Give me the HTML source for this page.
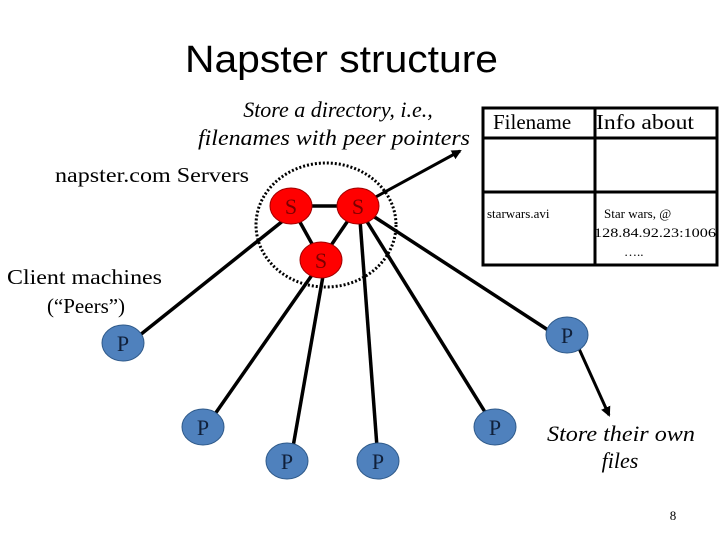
<!DOCTYPE html>
<html><head><meta charset="utf-8"><style>
html,body{margin:0;padding:0;background:#fff;}
svg{display:block;}
.serif{font-family:"Liberation Serif","Times New Roman",serif;}
.sans{font-family:"Liberation Sans",Arial,sans-serif;}
</style></head><body>
<svg width="720" height="540" viewBox="0 0 720 540" xmlns="http://www.w3.org/2000/svg">
<defs>
<marker id="ah" markerWidth="10" markerHeight="10" refX="8" refY="5" orient="auto" markerUnits="userSpaceOnUse">
<path d="M0,0 L10,5 L0,10 z" fill="#000"/>
</marker>
</defs>
<text class="sans" x="185" y="72" font-size="38" textLength="313" lengthAdjust="spacingAndGlyphs">Napster structure</text>
<g class="serif" font-style="italic" font-size="22">
<text x="338" y="117" text-anchor="middle">Store a directory, i.e.,</text>
<text x="470" y="145" text-anchor="end" textLength="272" lengthAdjust="spacingAndGlyphs">filenames with peer pointers</text>
<text x="547" y="441" textLength="148" lengthAdjust="spacingAndGlyphs">Store their own</text>
<text x="620" y="468" text-anchor="middle">files</text>
</g>
<g class="serif" font-size="21">
<text x="55" y="182" textLength="194" lengthAdjust="spacingAndGlyphs">napster.com Servers</text>
<text x="7" y="284" textLength="155" lengthAdjust="spacingAndGlyphs">Client machines</text>
<text x="86" y="313" text-anchor="middle">(“Peers”)</text>
</g>
<text class="serif" x="673" y="520" font-size="13" text-anchor="middle">8</text>
<g stroke="#000" stroke-width="3" fill="none">
<rect x="483" y="108" width="234" height="157"/>
<line x1="483" y1="138" x2="717" y2="138"/>
<line x1="483" y1="192" x2="717" y2="192"/>
<line x1="595" y1="108" x2="595" y2="265"/>
</g>
<g class="serif">
<text x="493" y="129" font-size="21">Filename</text>
<text x="596" y="129" font-size="21" textLength="98" lengthAdjust="spacingAndGlyphs">Info about</text>
<text x="487" y="218" font-size="13">starwars.avi</text>
<text x="604" y="218" font-size="13">Star wars, @</text>
<text x="594" y="237" font-size="13" textLength="122" lengthAdjust="spacingAndGlyphs">128.84.92.23:1006</text>
<text x="624" y="256" font-size="13">…..</text>
</g>
<ellipse cx="326" cy="225" rx="70" ry="62" fill="none" stroke="#000" stroke-width="3" stroke-dasharray="2,2"/>
<g stroke="#000" stroke-width="3.5" fill="none">
<line x1="291" y1="206" x2="358" y2="206"/>
<line x1="291" y1="206" x2="321" y2="260"/>
<line x1="358" y1="206" x2="321" y2="260"/>
<line x1="140" y1="335" x2="284" y2="220"/>
<line x1="312" y1="275" x2="215" y2="414"/>
<line x1="323" y1="276" x2="293" y2="447"/>
<line x1="360" y1="220" x2="377" y2="447"/>
<line x1="366" y1="220" x2="485" y2="412"/>
<line x1="373" y1="216" x2="548" y2="330"/>
</g>
<g stroke="#000" stroke-width="3" fill="none">
<line x1="372" y1="199" x2="460" y2="151" marker-end="url(#ah)"/>
<line x1="576" y1="342" x2="609" y2="415" marker-end="url(#ah)"/>
</g>
<g fill="#ff0000" stroke="#a00000" stroke-width="1">
<ellipse cx="291" cy="206" rx="21" ry="18"/>
<ellipse cx="358" cy="206" rx="21" ry="18"/>
<ellipse cx="321" cy="260" rx="21" ry="18"/>
</g>
<g class="serif" font-size="22" fill="#7a0000" text-anchor="middle">
<text x="291" y="214">S</text>
<text x="358" y="214">S</text>
<text x="321" y="268">S</text>
</g>
<g fill="#4f81bd" stroke="#2f5a8a" stroke-width="1">
<ellipse cx="123" cy="343" rx="21" ry="18"/>
<ellipse cx="567" cy="335" rx="21" ry="18"/>
<ellipse cx="203" cy="427" rx="21" ry="18"/>
<ellipse cx="287" cy="461" rx="21" ry="18"/>
<ellipse cx="378" cy="461" rx="21" ry="18"/>
<ellipse cx="495" cy="427" rx="21" ry="18"/>
</g>
<g class="serif" font-size="22" fill="#10203a" text-anchor="middle">
<text x="123" y="351">P</text>
<text x="567" y="343">P</text>
<text x="203" y="435">P</text>
<text x="287" y="469">P</text>
<text x="378" y="469">P</text>
<text x="495" y="435">P</text>
</g>
</svg>
</body></html>
